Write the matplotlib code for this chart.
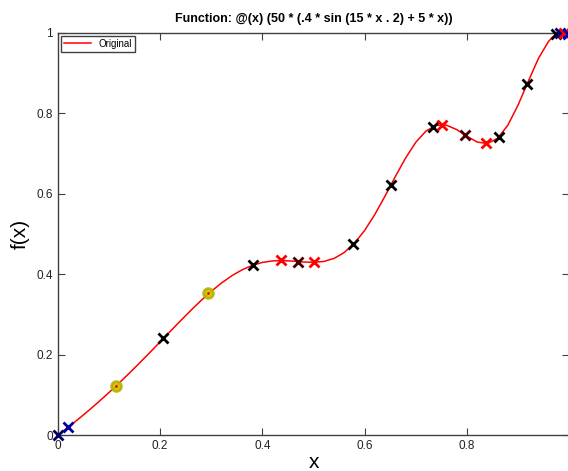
import matplotlib
matplotlib.use("Agg")
import matplotlib.pyplot as plt

plt.rcParams['font.family'] = ['Liberation Sans', 'DejaVu Sans']

# --- curve values ---
curve_x = [0.00, 0.02, 0.04, 0.06, 0.08, 0.10, 0.12, 0.14, 0.16, 0.18,
           0.20, 0.22, 0.24, 0.26, 0.28, 0.30, 0.32, 0.34, 0.36, 0.38,
           0.40, 0.42, 0.44, 0.46, 0.48, 0.50, 0.52, 0.54, 0.56, 0.58,
           0.60, 0.62, 0.64, 0.66, 0.68, 0.70, 0.72, 0.74, 0.76, 0.78,
           0.80, 0.82, 0.84, 0.86, 0.88, 0.90, 0.92, 0.94, 0.96, 0.97,
           0.98, 0.99, 1.00]
curve_y = [0.0000, 0.0194, 0.0396, 0.0608, 0.0829, 0.1058, 0.1296, 0.1542, 0.1795, 0.2054,
           0.2317, 0.2581, 0.2843, 0.3099, 0.3344, 0.3573, 0.3779, 0.3959, 0.4106, 0.4217,
           0.4291, 0.4329, 0.4336, 0.4323, 0.4302, 0.4293, 0.4315, 0.4390, 0.4536, 0.4767,
           0.5086, 0.5485, 0.5943, 0.6425, 0.6885, 0.7277, 0.7558, 0.7700, 0.7703, 0.7594,
           0.7428, 0.7285, 0.7245, 0.7375, 0.7700, 0.8199, 0.8792, 0.9363, 0.9791, 0.9922,
           0.9990, 0.9994, 0.9942]

# --- sample markers (x crosses) ---
cross_x = [0.000, 0.020, 0.206, 0.382, 0.437, 0.469, 0.500, 0.578, 0.651,
           0.733, 0.751, 0.796, 0.837, 0.863, 0.918, 0.975, 0.983, 0.990, 0.997]
cross_y = [0.000, 0.019, 0.241, 0.422, 0.434, 0.431, 0.429, 0.474, 0.621,
           0.766, 0.771, 0.746, 0.725, 0.740, 0.873, 0.997, 0.999, 0.999, 0.996]
cross_c = ['#000060', '#0000a0', 'k', 'k', '#ff0000', '#4a0000', '#ff0000', 'k', 'k',
           'k', '#ff0000', '#4a0000', '#ff0000', 'k', 'k', 'k', '#000080', '#ff0000', '#0000c0']

# --- circle markers ---
circ_x = [0.1137, 0.294]
circ_y = [0.122, 0.352]

fig = plt.figure(figsize=(5.68, 4.71), dpi=100)
ax = fig.add_axes([0.102, 0.0764, 0.900, 0.854])

ax.plot(curve_x, curve_y, color='#ff0000', lw=1.1, label='Original', zorder=2)
ax.plot(circ_x, circ_y, 'o', ms=7, mfc='#c8c800', mec='#b8b000', mew=2, alpha=0.9, zorder=3)
ax.plot(circ_x, circ_y, '.', ms=2, color='#ff0000', zorder=3.5)
for x, y, c in zip(cross_x, cross_y, cross_c):
    ax.plot(x, y, 'x', ms=6.5, mew=2, color=c, zorder=4, clip_on=False)

ax.set_xlim(0, 1)
ax.set_ylim(0, 1)
ticks = [0, 0.2, 0.4, 0.6, 0.8, 1]
ax.set_xticks(ticks)
ax.set_yticks(ticks)
ax.set_xticklabels(['0', '0.2', '0.4', '0.6', '0.8', '1'])
ax.set_yticklabels(['0', '0.2', '0.4', '0.6', '0.8', '1'])
ax.tick_params(direction='in', top=True, right=True, labelsize=8.5, length=5,
               color='#404040', labelcolor='#222222')
for s in ax.spines.values():
    s.set_color('#404040')
    s.set_linewidth(1.0)

ax.set_title('Function: @(x) (50 * (.4 * sin (15 * x . 2) + 5 * x))',
             fontsize=9, fontweight='bold', pad=8)
ax.set_xlabel('x', fontsize=15, labelpad=1)
ax.set_ylabel('f(x)', fontsize=15, labelpad=5)

leg = ax.legend(loc='upper left', fontsize=7, fancybox=False, framealpha=1,
                edgecolor='#404040', borderpad=0.3, handlelength=2.8,
                borderaxespad=0.3)
leg.get_frame().set_linewidth(1.0)

fig.savefig('out.png', dpi=100)
